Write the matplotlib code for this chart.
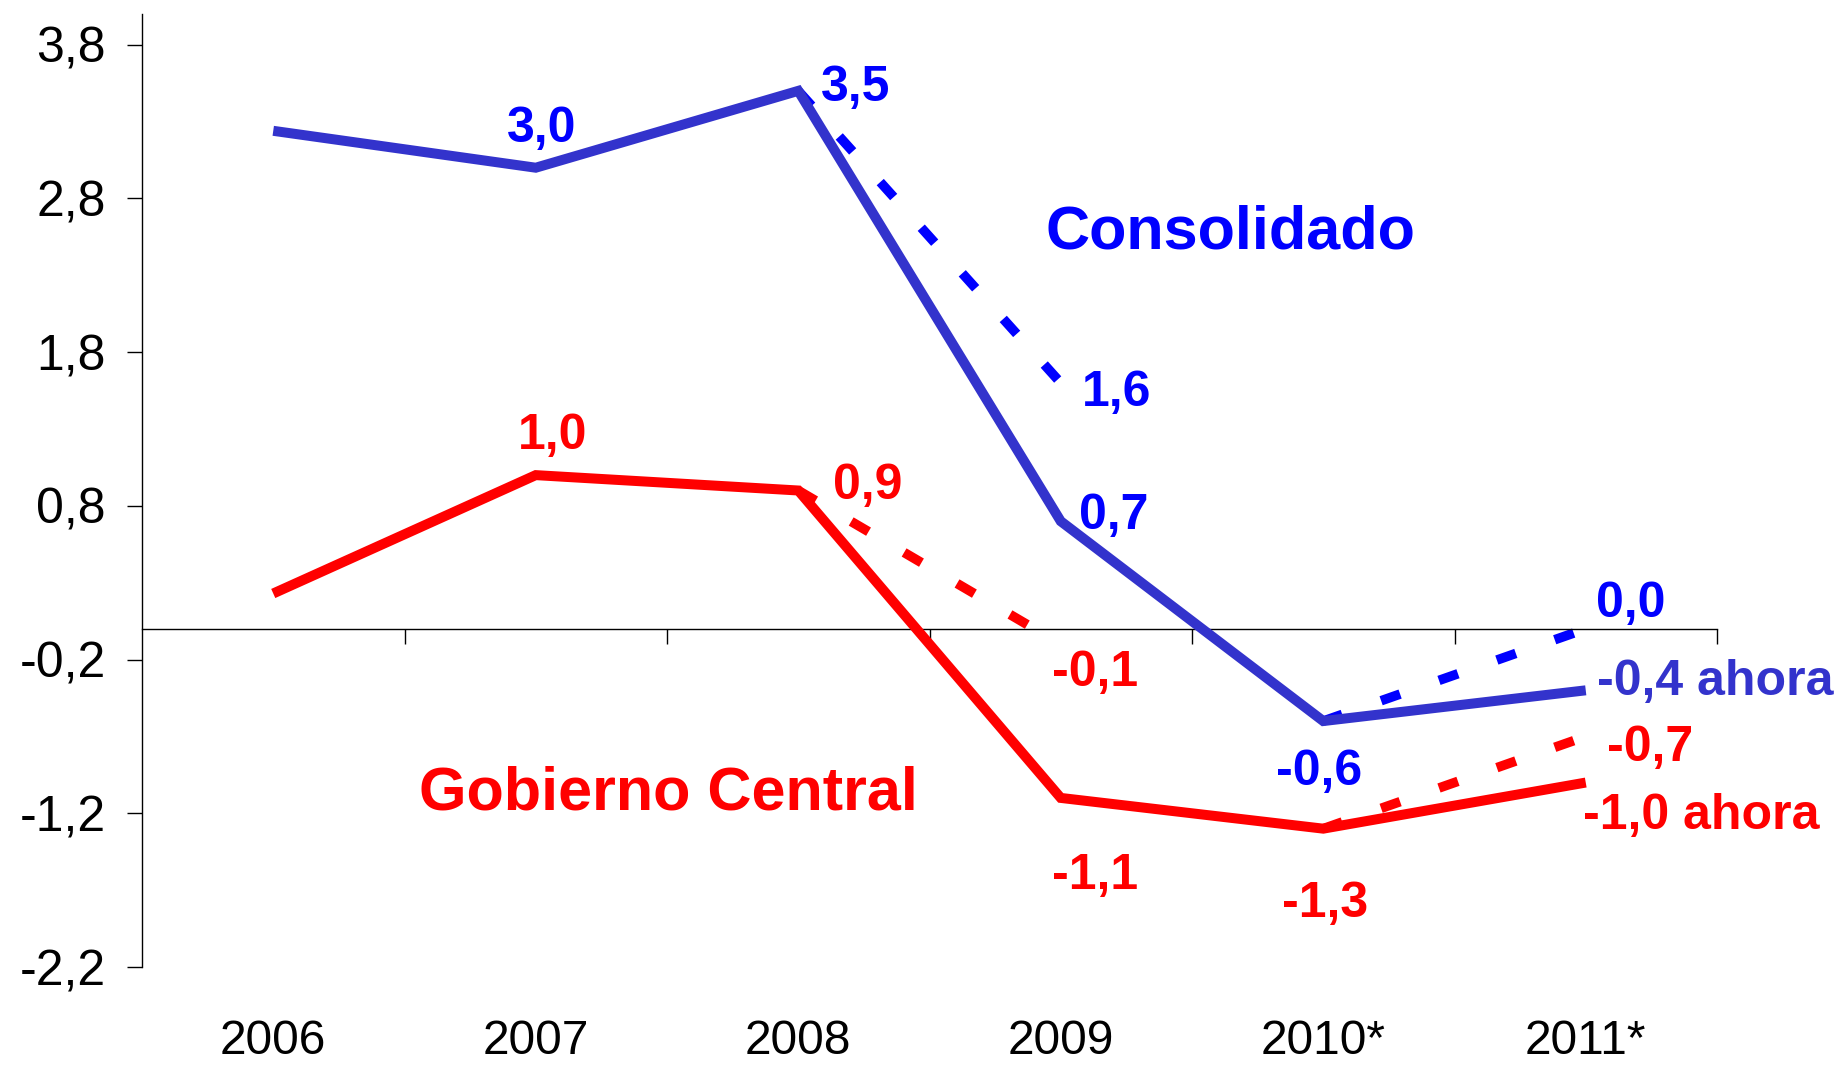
import matplotlib
matplotlib.use("Agg")
import matplotlib.pyplot as plt
import numpy as np
from matplotlib.transforms import blended_transform_factory

# ---------------- data ----------------
years = ["2006", "2007", "2008", "2009", "2010*", "2011*"]
consolidado = [3.24, 3.0, 3.5, 0.7, -0.6, -0.4]
gobierno_central = [0.23, 1.0, 0.9, -1.1, -1.3, -1.0]
# earlier projections (dashed, drawn from the previous year's actual value)
consolidado_anterior = [np.nan, np.nan, np.nan, 1.6, np.nan, 0.0]
gobierno_anterior = [np.nan, np.nan, np.nan, -0.1, np.nan, -0.7]
y_ticks = [-2.2, -1.2, -0.2, 0.8, 1.8, 2.8, 3.8]
y_tick_labels = ["-2,2", "-1,2", "-0,2", "0,8", "1,8", "2,8", "3,8"]

plt.rcParams["font.family"] = ["Liberation Sans", "DejaVu Sans"]

BLUE_LINE = "#3333CC"
BLUE = "#0000FF"
RED = "#FF0000"

W, H = 1843, 1065
fig = plt.figure(figsize=(W / 100, H / 100), dpi=100)
ax = fig.add_axes([142 / W, 1 - 967 / H, (1717 - 142) / W, (967 - 14) / H])

x = np.arange(len(years))


def fmt(v):
    return f"{v:.1f}".replace(".", ",")


def draw_projection(actual, anterior, color):
    for i, v in enumerate(anterior):
        if not np.isnan(v):
            ax.plot([x[i - 1], x[i]], [actual[i - 1], v], color=color, lw=6.9,
                    linestyle=(0, (2.1, 4.3)), dash_capstyle="butt", zorder=2)


draw_projection(consolidado, consolidado_anterior, BLUE)
draw_projection(gobierno_central, gobierno_anterior, RED)

ax.plot(x, consolidado, color=BLUE_LINE, lw=7.2, solid_joinstyle="miter",
        solid_capstyle="butt", zorder=3)
ax.plot(x, gobierno_central, color=RED, lw=7.2, solid_joinstyle="miter",
        solid_capstyle="butt", zorder=3)

ax.set_xlim(-0.5, 5.5)
ax.set_ylim(-2.2, 4.0)

# spines
for s in ["top", "right"]:
    ax.spines[s].set_visible(False)
ax.spines["bottom"].set_position(("data", 0))
ax.spines["left"].set_linewidth(1.0)
ax.spines["bottom"].set_linewidth(1.0)

ax.set_yticks(y_ticks)
ax.set_yticklabels(y_tick_labels, fontsize=36)
ax.tick_params(axis="y", direction="out", length=11, width=1.0, pad=15)
ax.set_xticks(x + 0.5)
ax.set_xticklabels([])
ax.tick_params(axis="x", direction="out", length=11, width=1.0)

# year labels at the bottom
trans = blended_transform_factory(ax.transData, ax.transAxes)
for i, yl in enumerate(years):
    ax.text(x[i], -0.078, yl, transform=trans, ha="center", va="center",
            fontsize=34.5, color="black")

# data labels
lab_kw = dict(textcoords="offset points", fontsize=36, fontweight="bold",
              va="center", annotation_clip=False)


def lab(xi, yv, dx, dy, color, text=None, ha="center"):
    ax.annotate(text if text is not None else fmt(yv), (xi, yv),
                xytext=(dx, dy), color=color, ha=ha, **lab_kw)


# Consolidado
lab(1, consolidado[1], 4, 28, BLUE)
lab(2, consolidado[2], 41, 2, BLUE)
lab(3, consolidado_anterior[3], 40, -7, BLUE)
lab(3, consolidado[3], 38, 4, BLUE)
lab(4, consolidado[4], -3, -37, BLUE)
lab(5, consolidado_anterior[5], 32, 18, BLUE)
lab(5, consolidado[5], 8, 6, BLUE_LINE, fmt(consolidado[5]) + " ahora", ha="left")

# Gobierno Central
lab(1, gobierno_central[1], 12, 28, RED)
lab(2, gobierno_central[2], 50, 3, RED)
lab(3, gobierno_anterior[3], 25, -21, RED)
lab(3, gobierno_central[3], 25, -56, RED)
lab(4, gobierno_central[4], 1, -54, RED)
lab(5, gobierno_anterior[5], 46, -8, RED)
lab(5, gobierno_central[5], -2, -24, RED, fmt(gobierno_central[5]) + " ahora", ha="left")

# series names
ax.text(3.645, 2.575, "Consolidado", color=BLUE, fontsize=44, fontweight="bold",
        ha="center", va="center")
ax.text(1.507, -1.075, "Gobierno Central", color=RED, fontsize=44, fontweight="bold",
        ha="center", va="center")

fig.savefig("out.png", dpi=100)
